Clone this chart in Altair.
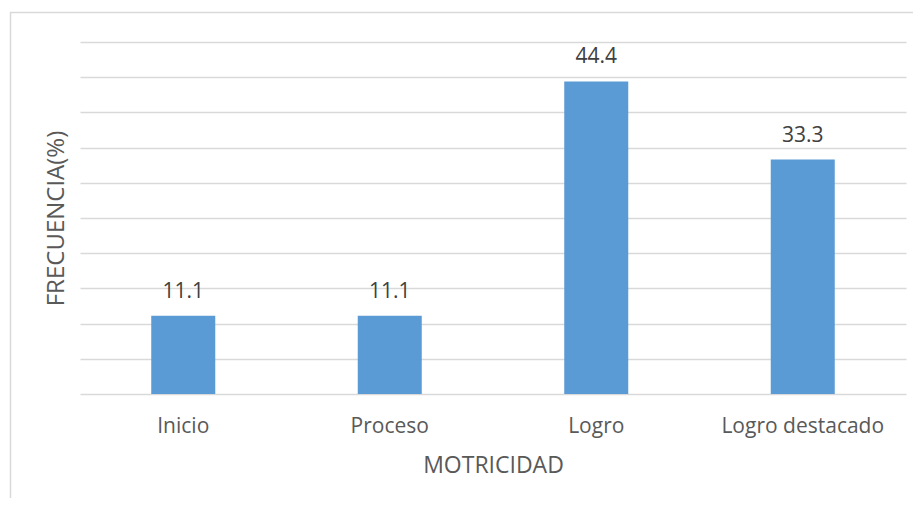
import altair as alt
import pandas as pd

categories = ["Inicio", "Proceso", "Logro", "Logro destacado"]
values = [11.1, 11.1, 44.4, 33.3]
value_labels = ["11.1", "11.1", "44.4", "33.3"]

df = pd.DataFrame({"cat": categories, "val": values, "lab": value_labels})

FONT = "Open Sans"
TXT = "#595959"
LBL = "#404040"
GRID = "#d9d9d9"

x_enc = alt.X(
    "cat:N",
    sort=categories,
    scale=alt.Scale(paddingInner=0.69, paddingOuter=0.345),
    axis=alt.Axis(
        title="MOTRICIDAD",
        labelAngle=0,
        ticks=False,
        domain=False,
        labelPadding=38,
        labelBaseline="alphabetic",
        labelFont=FONT,
        labelFontSize=21,
        labelColor=TXT,
        titleFont=FONT,
        titleFontSize=23,
        titleFontWeight="normal",
        titleColor=TXT,
        titleBaseline="alphabetic",
        titleY=78,
    ),
)
y_enc = alt.Y(
    "val:Q",
    scale=alt.Scale(domain=[0, 50], nice=False),
    axis=alt.Axis(
        title="FRECUENCIA(%)",
        values=[0, 5, 10, 15, 20, 25, 30, 35, 40, 45, 50],
        labels=False,
        ticks=False,
        domain=False,
        grid=True,
        gridColor=GRID,
        gridWidth=1.3,
        titleFont=FONT,
        titleFontSize=24,
        titleFontWeight="normal",
        titleColor=TXT,
        titleBaseline="alphabetic",
        titleX=-17,
        titleY=176,
        titleAlign="center",
        titleAngle=270,
    ),
)

base = alt.Chart(df).encode(x=x_enc, y=y_enc)
bars = base.mark_bar(color="#5B9BD5")
texts = base.mark_text(
    dy=-18, baseline="alphabetic", font=FONT, fontSize=21, color=LBL
).encode(text="lab:N")

border = alt.Chart(pd.DataFrame({"k": [0]})).mark_rect(
    fill=None, stroke=GRID, strokeWidth=1.5, clip=False
).encode(
    x=alt.value(-69.5), x2=alt.value(860), y=alt.value(-29.5), y2=alt.value(480)
)

chart = (
    alt.layer(border, bars, texts)
    .properties(
        width=826,
        height=352,
        padding={"left": 72, "top": 34, "right": 7, "bottom": 104},
        autosize=alt.AutoSizeParams(type="none"),
    )
    .configure(background="white")
    .configure_view(strokeWidth=0, stroke="transparent")
)

chart.save("out.html", embed_options={"renderer": "svg", "actions": False})
